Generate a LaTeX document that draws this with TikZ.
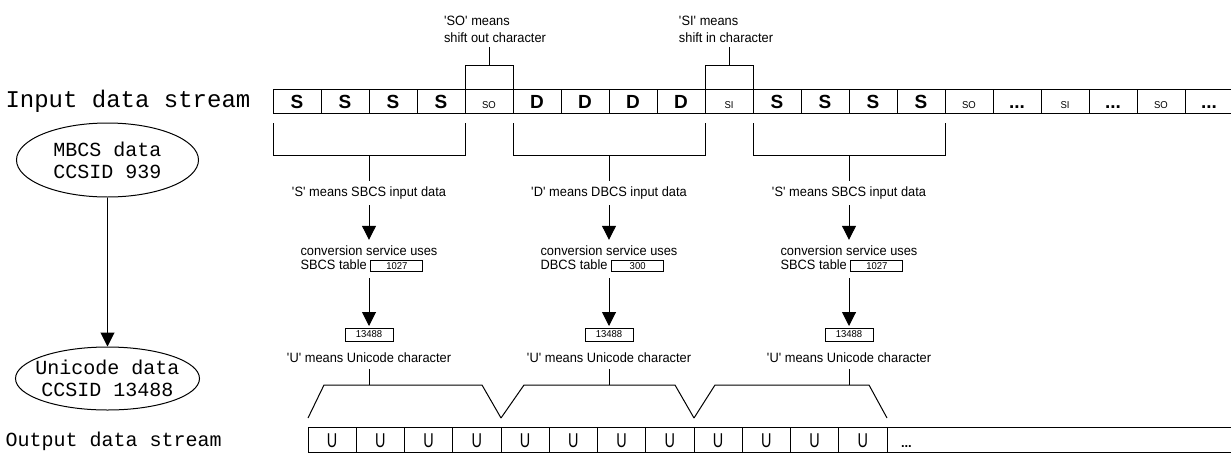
\documentclass[tikz,border=0pt]{standalone}
\usepackage{fontspec}
\setmainfont{Liberation Sans}
\newfontfamily\courfont{Liberation Mono}
\newfontfamily\notefont[FakeStretch=0.95]{Liberation Sans}
\newfontfamily\ufont[FakeStretch=0.72]{Liberation Sans}
\usetikzlibrary{positioning, arrows.meta, shapes.geometric}

\newcommand{\qt}[1]{\textquotesingle#1\textquotesingle}
\newcommand{\ddd}{...}
\newcommand{\bigf}{\bfseries\fontsize{19}{19}\selectfont}
\newcommand{\smallf}{\notefont\fontsize{10}{10}\selectfont}
\newcommand{\tbl}[1]{{\setlength{\fboxsep}{1.5pt}\setlength{\fboxrule}{1pt}%
  \fbox{\makebox[48pt]{\fontsize{10}{10}\selectfont #1}}}}

\begin{document}
\begin{tikzpicture}[x=1pt, y=-1pt, line width=1pt,
  >={Triangle[length=14pt, width=14pt]},
  every node/.style={inner sep=0pt},
  cell/.style={draw, minimum width=48pt, minimum height=24pt, text height=14pt, text depth=0pt, outer sep=0pt},
  ocell/.style={draw, minimum width=48.25pt, minimum height=25pt, text height=15pt, text depth=0pt, outer sep=0pt,
    font=\ufont\fontsize{20}{20}\selectfont},
  stream/.style={font=\courfont\fontsize{#1}{#1}\selectfont, anchor=west},
  cloud/.style={draw, ellipse, align=center, inner xsep=-25pt, inner ysep=-10pt,
    font=\courfont\fontsize{20}{22}\selectfont},
  note/.style={font=\notefont\fontsize{13.5}{17}\selectfont, align=left, outer ysep=5pt},
  txt/.style={font=\notefont\fontsize{13.5}{14}\selectfont, align=center, outer ysep=6pt},
  idbox/.style={draw, minimum width=48pt, minimum height=13pt, outer sep=2pt,
    font=\notefont\fontsize{10}{10}\selectfont},
]
\useasboundingbox (0,0) rectangle (1231,453);

% Streams
\node[stream=24] (inlbl) at (5,101) {Input data stream};
\node[stream=20] (outlbl) at (5,441) {Output data stream};
\foreach \t/\f [count=\i from 0] in {S/\bigf, S/\bigf, S/\bigf, S/\bigf, SO/\smallf,
    D/\bigf, D/\bigf, D/\bigf, D/\bigf, SI/\smallf, S/\bigf, S/\bigf, S/\bigf, S/\bigf,
    SO/\smallf, \ddd/\bigf, SI/\smallf, \ddd/\bigf, SO/\smallf, \ddd/\bigf}
  \node[cell] (in\i) at (297+48*\i, 101) {\f\t};
\foreach \i in {0,...,11}
  \node[ocell] (out\i) at (332.125+48.25*\i, 439.5) {U};
\node[ocell, anchor=west, text width=318pt, inner xsep=14pt, align=left,
  font=\bfseries\fontsize{13}{13}\selectfont] (out12) at (887,439.5) {\ddd};

% Code pages
\node[cloud, minimum width=182pt, minimum height=74pt] (mbcs) at (107.5,160) {MBCS data\\CCSID 939};
\node[cloud, minimum width=184pt, minimum height=63pt] (unic) at (107.5,378.5) {Unicode data\\CCSID 13488};
\draw[->] (mbcs) -- (unic);

% Shift characters
\node[note] (sonote) at (495,29) {\qt{SO} means\\shift out character};
\node[note] (sinote) at (726,29) {\qt{SI} means\\shift in character};
\draw (in4.north west) -- ++(0,-24) coordinate (so) -| (in4.north east);
\draw (so -| in4) -- (in4 |- sonote.south);
\draw (in9.north west) -- ++(0,-24) coordinate (si) -| (in9.north east);
\draw (si -| in9) -- (in9 |- sinote.south);

% Column 1: SBCS
\draw ([yshift=-10pt]in0.south west) -- ++(0,32) coordinate (b1) -| ([yshift=-10pt]in3.south east);
\node[txt] (mean1) at (369,193) {\qt{S} means SBCS input data};
\node[txt, align=left] (conv1) at (369,259) {conversion service uses\\SBCS table \tbl{1027}};
\node[idbox] (uni1) at (369,334.5) {13488};
\node[txt] (umean1) at (369,358) {\qt{U} means Unicode character};
\draw (b1 -| mean1) -- (mean1);
\draw[->] (mean1) -- (conv1);
\draw[->] (conv1) -- (uni1);
\draw ([yshift=9pt]out0.north west) -- ++(16,-33) coordinate (t1)
  -- ([xshift=-19pt,yshift=42pt]out3.north east) -- ([yshift=9pt]out3.north east);
\draw (umean1) -- (umean1 |- t1);

% Column 2: DBCS
\draw ([yshift=-10pt]in5.south west) -- ++(0,32) coordinate (b2) -| ([yshift=-10pt]in8.south east);
\node[txt] (mean2) at (609,193) {\qt{D} means DBCS input data};
\node[txt, align=left] (conv2) at (609,259) {conversion service uses\\DBCS table \tbl{300}};
\node[idbox] (uni2) at (609,334.5) {13488};
\node[txt] (umean2) at (609,358) {\qt{U} means Unicode character};
\draw (b2 -| mean2) -- (mean2);
\draw[->] (mean2) -- (conv2);
\draw[->] (conv2) -- (uni2);
\draw ([yshift=9pt]out4.north west) -- ++(23,-33) coordinate (t2)
  -- ([xshift=-19pt,yshift=42pt]out7.north east) -- ([yshift=9pt]out7.north east);
\draw (umean2) -- (umean2 |- t2);

% Column 3: SBCS
\draw ([yshift=-10pt]in10.south west) -- ++(0,32) coordinate (b3) -| ([yshift=-10pt]in13.south east);
\node[txt] (mean3) at (849,193) {\qt{S} means SBCS input data};
\node[txt, align=left] (conv3) at (849,259) {conversion service uses\\SBCS table \tbl{1027}};
\node[idbox] (uni3) at (849,334.5) {13488};
\node[txt] (umean3) at (849,358) {\qt{U} means Unicode character};
\draw (b3 -| mean3) -- (mean3);
\draw[->] (mean3) -- (conv3);
\draw[->] (conv3) -- (uni3);
\draw ([yshift=9pt]out8.north west) -- ++(21,-33) coordinate (t3)
  -- ([xshift=-18pt,yshift=42pt]out11.north east) -- ([yshift=9pt]out11.north east);
\draw (umean3) -- (umean3 |- t3);
\end{tikzpicture}
\end{document}
